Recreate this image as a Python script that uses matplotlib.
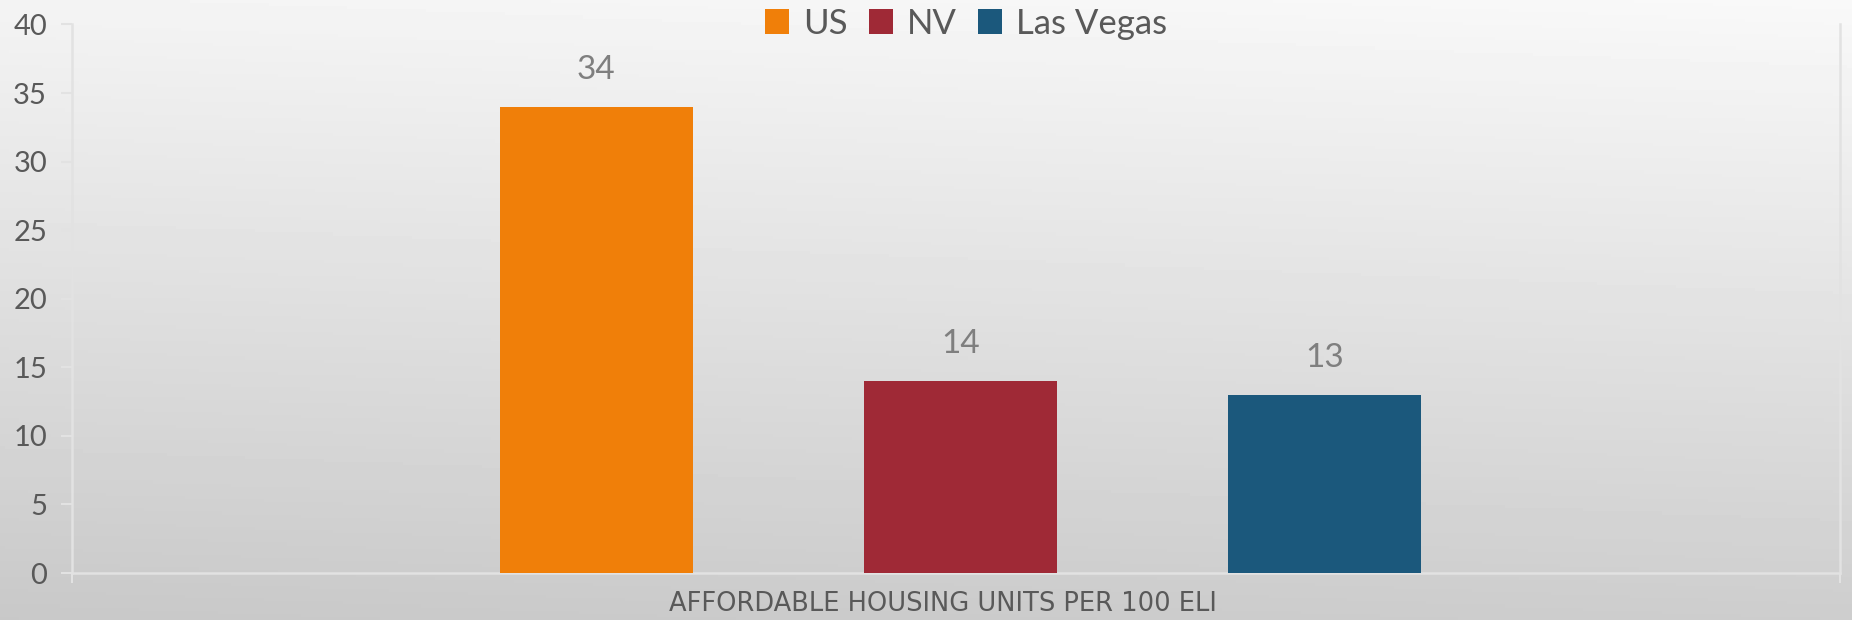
import numpy as np
import matplotlib.pyplot as plt
from matplotlib.patches import Patch

plt.rcParams['font.family'] = ['Lato', 'DejaVu Sans']

series = ['US', 'NV', 'Las Vegas']
values = [34, 14, 13]
colors = ['#F07F09', '#9F2936', '#1B587C']
yticks = [0, 5, 10, 15, 20, 25, 30, 35, 40]
xlabel = 'AFFORDABLE HOUSING UNITS PER 100 ELI'

fig = plt.figure(figsize=(18.52, 6.2), dpi=100)

# background gradient (light top, darker bottom)
bg = fig.add_axes([0, 0, 1, 1], zorder=-10)
yy, xx = np.mgrid[0:1:200j, 0:1:400j]
shade = 0.955 - 0.17 * yy + 0.02 * xx
bg.imshow(shade, cmap='gray', vmin=0, vmax=1, aspect='auto',
          extent=[0, 1, 0, 1], origin='upper')
bg.axis('off')

ax = fig.add_axes([0.0389, 0.0758, 0.9546, 0.8847])
ax.patch.set_alpha(0)

x = np.arange(len(values))
bars = ax.bar(x, values, width=0.53, color=colors, zorder=3)
for xi, v in zip(x, values):
    ax.text(xi, v + 1.6, str(v), ha='center', va='bottom',
            fontsize=24, color='#7f7f7f')

xmin, xmax = -1.44, 3.415
ax.set_xlim(xmin, xmax)
ax.set_ylim(0, 40)
ax.set_yticks(yticks)
ax.set_xticks([xmin, xmax])
ax.set_xticklabels(['', ''])
ax.tick_params(axis='y', labelsize=21, labelcolor='#595959', color='#e2e2e2',
               length=8, width=1.5, pad=10)
ax.tick_params(axis='x', color='#e2e2e2', length=7, width=1.5)

for s in ['left', 'bottom', 'right']:
    ax.spines[s].set_color('#e2e2e2')
    ax.spines[s].set_linewidth(1.8)
ax.spines['top'].set_visible(False)

fig.text(0.509, 0.026, xlabel, ha='center', va='center',
         fontsize=18.5, color='#595959', family=['DejaVu Sans'])

handles = [Patch(facecolor=c, label=s) for c, s in zip(colors, series)]
fig.legend(handles=handles, loc='center', bbox_to_anchor=(0.5216, 0.962),
           ncol=3, frameon=False, fontsize=25, labelcolor='#595959',
           handlelength=0.7, handleheight=0.7, handletextpad=0.4,
           columnspacing=0.6)

fig.savefig('out.png', dpi=100)
